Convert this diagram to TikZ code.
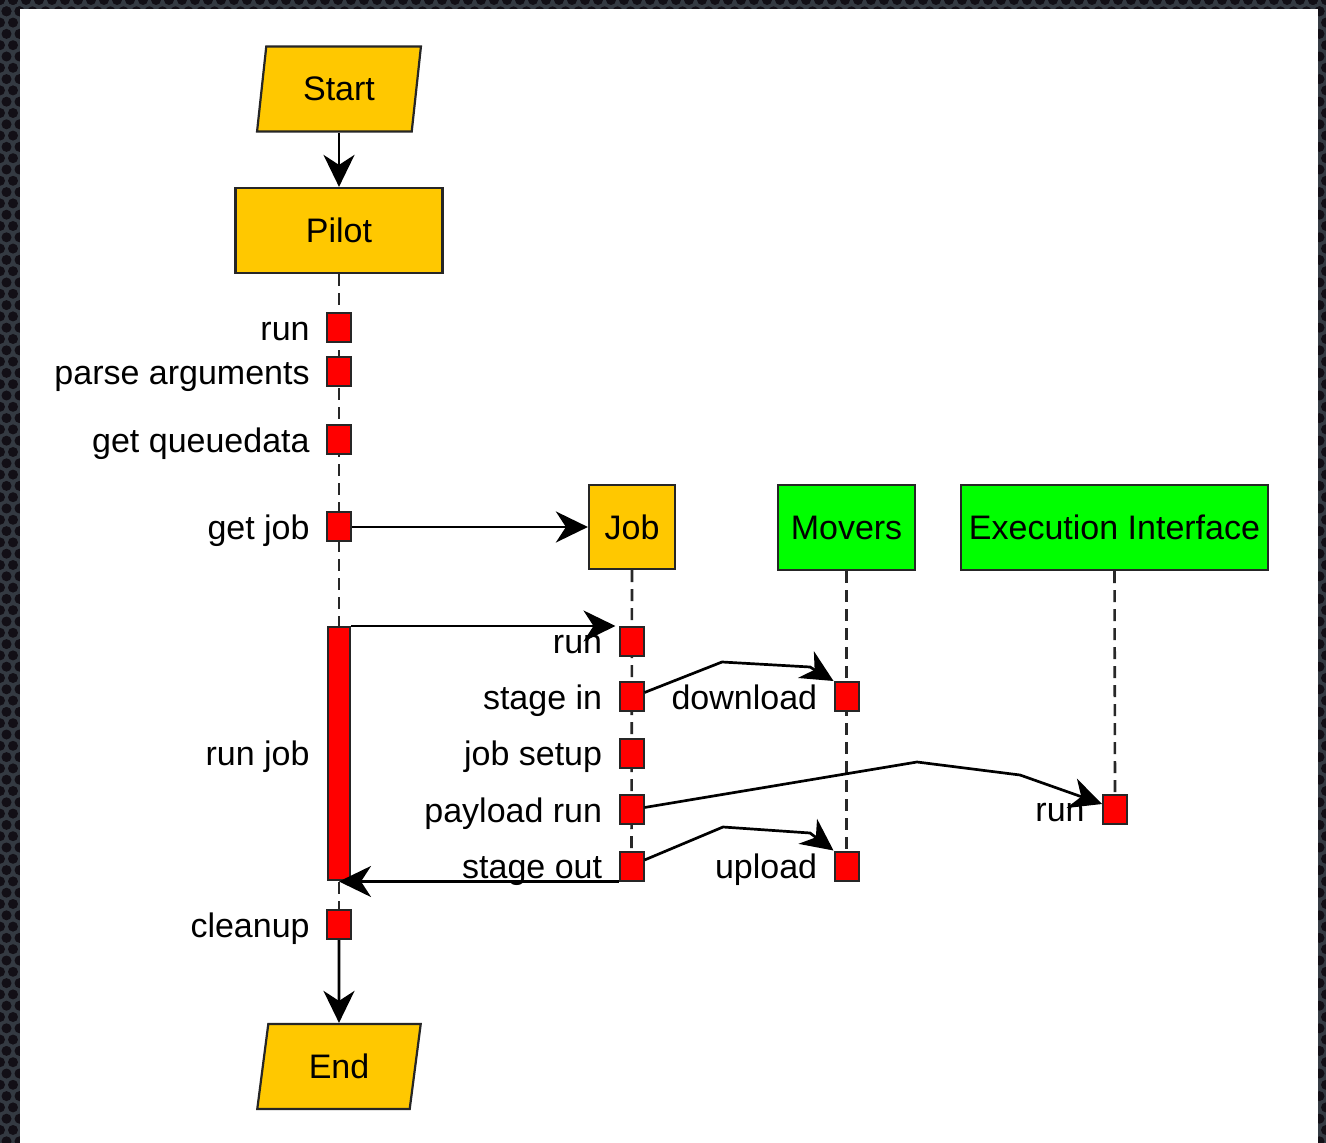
\documentclass[tikz,border=0pt]{standalone}
\usepackage{fontspec}
\setmainfont{Liberation Sans}
\usetikzlibrary{shapes.geometric,arrows.meta,calc}
\pgfdeclarelayer{frame}
\pgfdeclarelayer{bg}
\pgfsetlayers{frame,bg,main}
\definecolor{pilotyellow}{RGB}{255,200,0}
\definecolor{helpergreen}{RGB}{0,255,0}
\definecolor{actred}{RGB}{255,0,0}
\definecolor{framebase}{RGB}{52,58,66}
\definecolor{framehole}{RGB}{18,15,22}
\definecolor{lifegray}{RGB}{40,40,40}
\tikzset{
  txt/.style={font=\fontsize{17}{20}\selectfont},
  headbox/.style={draw=black!85, line width=1.1pt, txt, inner sep=0pt},
  parabox/.style={headbox, fill=pilotyellow, shape=trapezium,
    trapezium left angle=79.3, trapezium right angle=100.7,
    trapezium stretches=true, minimum width=82pt, minimum height=42.5pt},
  actbox/.style={draw=black!85, line width=1pt, fill=actred, inner sep=0pt,
    minimum width=12pt, minimum height=14.5pt},
  lbl/.style={txt, anchor=east, inner sep=0pt, text height=12pt, text depth=3.5pt},
  lifeline/.style={draw=lifegray, line width=1.3pt, dash pattern=on 6pt off 3.5pt},
  msg/.style={draw=black, line width=1.35pt,
    -{Stealth[length=16pt, width=15.5pt, inset=5pt]}},
  hole/.style={fill=framehole}
}
\begin{document}
\begin{tikzpicture}[x=0.5pt, y=-0.5pt]
\useasboundingbox (0,0) rectangle (1326,1143);

% perforated metal frame and white sheet
\begin{pgfonlayer}{frame}
  \fill[framebase] (0,0) rectangle (1326,1143);
  \foreach \i in {0,...,102} {
    \fill[hole] (\i*13, 0) circle (5);
    \fill[hole] (\i*13+6.5, 11.3) circle (5);
  }
  \foreach \j [evaluate=\j as \xo using {6.5*mod(\j,2)}] in {0,...,101} {
    \fill[hole] (\xo, \j*11.3) circle (5);
    \fill[hole] (\xo+13, \j*11.3) circle (5);
    \fill[hole] (\xo+1313, \j*11.3) circle (5);
    \fill[hole] (\xo+1326, \j*11.3) circle (5);
  }
  \fill[white] (20,9) rectangle (1318,1144);
\end{pgfonlayer}

% participants
\node[parabox] (start) at (339,89) {Start};
\node[headbox, fill=pilotyellow, minimum width=103.5pt, minimum height=42.5pt] (pilot) at (339,230.5) {Pilot};
\node[headbox, fill=pilotyellow, minimum width=43pt, minimum height=42pt] (job) at (632,527) {Job};
\node[headbox, fill=helpergreen, minimum width=68.5pt, minimum height=42.5pt] (movers) at (846.5,527.5) {Movers};
\node[headbox, fill=helpergreen, minimum width=153.5pt, minimum height=42.5pt] (ei) at (1114.5,527.5) {Execution Interface};
\node[parabox] (end) at (339,1066.5) {End};

% pilot activations
\node[actbox] (prun) at (339,327.5) {};
\node[actbox] (parse) at (339,372) {};
\node[actbox] (queue) at (339,440) {};
\node[actbox] (getjob) at (339,527) {};
\node[actbox, minimum width=11pt, minimum height=126.5pt] (runjob) at (339,753.5) {};
\node[actbox] (cleanup) at (339,924.5) {};

% job activations
\node[actbox] (jrun) at (631.5,641) {};
\node[actbox] (stagein) at (631.5,696.5) {};
\node[actbox] (setup) at (631.5,753) {};
\node[actbox] (payload) at (631.5,809.5) {};
\node[actbox] (stageout) at (631.5,866) {};

% movers and execution interface activations
\node[actbox] (dl) at (846.5,696.5) {};
\node[actbox] (ul) at (846.5,866) {};
\node[actbox] (eirun) at (1115,809) {};

% labels
\node[lbl] (lprun) at ([xshift=-8pt,yshift=-2.5pt]prun.west) {run};
\node[lbl] (lparse) at ([xshift=-8pt,yshift=-2pt]parse.west) {parse arguments};
\node[lbl] (lqueue) at ([xshift=-8pt,yshift=-2pt]queue.west) {get queuedata};
\node[lbl] (lgetjob) at ([xshift=-8pt,yshift=-2pt]getjob.west) {get job};
\node[lbl] (lrunjob) at ([xshift=-8.5pt,yshift=-1.5pt]runjob.west) {run job};
\node[lbl] (lcleanup) at ([xshift=-8pt,yshift=-2pt]cleanup.west) {cleanup};
\node[lbl] (ljrun) at ([xshift=-8pt,yshift=-2pt]jrun.west) {run};
\node[lbl] (lstagein) at ([xshift=-8pt,yshift=-2pt]stagein.west) {stage in};
\node[lbl] (lsetup) at ([xshift=-8pt,yshift=-2pt]setup.west) {job setup};
\node[lbl] (lpayload) at ([xshift=-8pt,yshift=-2pt]payload.west) {payload run};
\node[lbl] (lstageout) at ([xshift=-8pt,yshift=-2pt]stageout.west) {stage out};
\node[lbl] (ldl) at ([xshift=-8pt,yshift=-2pt]dl.west) {download};
\node[lbl] (lul) at ([xshift=-8pt,yshift=-2pt]ul.west) {upload};
\node[lbl] (leirun) at ([xshift=-8.5pt,yshift=-2pt]eirun.west) {run};

% lifelines
\begin{pgfonlayer}{bg}
  \draw[lifeline] (pilot.south) -- (cleanup.north);
  \draw[lifeline] (job.south) -- (stageout.north);
  \draw[lifeline] (movers.south) -- (ul.north);
  \draw[lifeline] (ei.south) -- (eirun.north);
\end{pgfonlayer}

% messages
\draw[msg] (start.south) -- (start.south |- pilot.north);
\draw[msg] (getjob.east) -- (job.west);
\draw[msg] (runjob.north east) -- ([xshift=-1.5pt]runjob.north east -| jrun.west);
\draw[msg] ([yshift=2pt]stagein.east) -- (722,662) -- (810,667) -- (dl.north west);
\draw[msg] ([yshift=1pt]payload.east) -- (917,762) -- (1020,775) -- ([yshift=2.5pt]eirun.west);
\draw[msg] ([yshift=3pt]stageout.east) -- (723,827) -- (810,833) -- (ul.north west);
\draw[msg] (stageout.south west) -- (stageout.south west -| runjob.south);
\draw[msg] (cleanup.south) -- (end.north);
\end{tikzpicture}
\end{document}
